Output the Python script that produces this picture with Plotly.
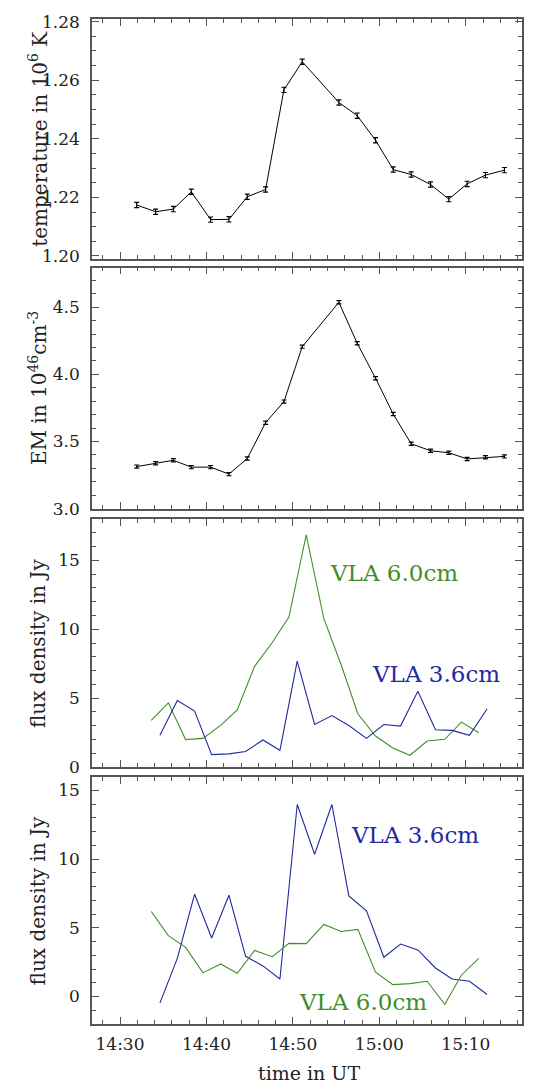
import plotly.graph_objects as go

# ---- data (time in minutes after 14:00 UT) ----
t_xray = [31.93, 34.12, 36.17, 38.25, 40.48, 42.60, 44.72, 46.84, 48.96, 51.08,
          55.32, 57.44, 59.56, 61.60, 63.68, 65.92, 68.03, 70.15, 72.27, 74.47]
temperature = [1.2174, 1.2151, 1.2160, 1.2219, 1.2124, 1.2125, 1.2202, 1.2227, 1.2567, 1.2663,
               1.2524, 1.2479, 1.2395, 1.2295, 1.2278, 1.2244, 1.2194, 1.2246, 1.2276, 1.2293]
temperature_err = [0.0009, 0.0009, 0.0009, 0.0009, 0.0009, 0.0009, 0.0009, 0.0009, 0.0009, 0.0009,
                   0.0009, 0.0009, 0.0009, 0.0009, 0.0009, 0.0009, 0.0009, 0.0009, 0.0009, 0.0009]
emission = [3.313, 3.338, 3.360, 3.309, 3.309, 3.257, 3.373, 3.640, 3.797, 4.206,
            4.536, 4.231, 3.971, 3.704, 3.483, 3.431, 3.416, 3.370, 3.382, 3.389]
emission_err = [0.012, 0.012, 0.012, 0.012, 0.012, 0.012, 0.012, 0.012, 0.012, 0.012,
                0.012, 0.012, 0.012, 0.012, 0.012, 0.012, 0.012, 0.012, 0.012, 0.012]

t_60 = [33.62, 35.59, 37.59, 39.60, 41.64, 43.56, 45.57, 47.61, 49.54, 51.54,
        53.58, 55.59, 57.51, 59.56, 61.56, 63.53, 65.53, 67.57, 69.50, 71.50]
t_36 = [34.62, 36.63, 38.63, 40.60, 42.60, 44.53, 46.53, 48.50, 50.50, 52.51,
        54.51, 56.47, 58.51, 60.52, 62.45, 64.45, 66.49, 68.42, 70.42, 72.47]

flux60_a = [3.37, 4.65, 1.98, 2.07, 3.01, 4.14, 7.30, 9.04, 10.89, 16.87,
            10.77, 7.40, 3.86, 2.24, 1.37, 0.84, 1.88, 2.00, 3.25, 2.48]
flux36_a = [2.29, 4.82, 4.05, 0.89, 0.94, 1.11, 1.95, 1.20, 7.69, 3.08,
            3.73, 3.00, 2.07, 3.08, 2.96, 5.49, 2.70, 2.65, 2.29, 4.22]
flux60_b = [6.19, 4.43, 3.58, 1.72, 2.37, 1.69, 3.36, 2.90, 3.87, 3.85,
            5.25, 4.74, 4.89, 1.77, 0.87, 0.94, 1.11, -0.56, 1.57, 2.78]
flux36_b = [-0.46, 2.78, 7.45, 4.26, 7.38, 2.93, 2.23, 1.28, 13.98, 10.36,
            13.98, 7.33, 6.24, 2.86, 3.82, 3.39, 2.08, 1.28, 1.11, 0.15]

x_tickvals = [30, 40, 50, 60, 70]
x_ticktext = ["14:30", "14:40", "14:50", "15:00", "15:10"]

y_titles = ["temperature in 10<sup>6</sup> K",
            "EM in 10<sup>46</sup>cm<sup>-3</sup>",
            "flux density in Jy",
            "flux density in Jy"]

GREEN = "#3f8f27"
BLUE = "#1e2a9e"
FRAME = "#555555"
FONT = "DejaVu Serif"
TXT = "#222222"

fig = go.Figure()

fig.add_trace(go.Scatter(x=t_xray, y=temperature, mode="lines",
                         line=dict(color="black", width=1),
                         error_y=dict(type="data", array=temperature_err, color="black",
                                      thickness=1.2, width=2.5),
                         xaxis="x", yaxis="y", showlegend=False))
fig.add_trace(go.Scatter(x=t_xray, y=emission, mode="lines",
                         line=dict(color="black", width=1),
                         error_y=dict(type="data", array=emission_err, color="black",
                                      thickness=1.2, width=2.5),
                         xaxis="x2", yaxis="y2", showlegend=False))
fig.add_trace(go.Scatter(x=t_60, y=flux60_a, mode="lines", line=dict(color=GREEN, width=1.1),
                         xaxis="x3", yaxis="y3", showlegend=False))
fig.add_trace(go.Scatter(x=t_36, y=flux36_a, mode="lines", line=dict(color=BLUE, width=1.1),
                         xaxis="x3", yaxis="y3", showlegend=False))
fig.add_trace(go.Scatter(x=t_36, y=flux36_b, mode="lines", line=dict(color=BLUE, width=1.1),
                         xaxis="x4", yaxis="y4", showlegend=False))
fig.add_trace(go.Scatter(x=t_60, y=flux60_b, mode="lines", line=dict(color=GREEN, width=1.1),
                         xaxis="x4", yaxis="y4", showlegend=False))

domains = [[0.7616, 1.0], [0.5128, 0.7527], [0.2559, 0.5023], [0.0, 0.2460]]
y_ranges = [[1.1991, 1.2809], [3.0, 4.795], [0.0, 18.0], [-2.0, 16.0]]
y_dticks = [0.02, 0.5, 5, 5]
y_minor = [0.005, 0.1, 1, 1]
y_tick0 = [1.2, 3.0, 0, 0]
y_fmt = [".2f", ".1f", "d", "d"]

common = dict(showline=True, linecolor=FRAME, linewidth=1.5, mirror="ticks",
              ticks="inside", ticklen=7, tickwidth=1, tickcolor=FRAME,
              showgrid=False, zeroline=False,
              tickfont=dict(family=FONT, size=17, color=TXT))

layout = dict(width=538, height=1085, paper_bgcolor="white", plot_bgcolor="white",
              margin=dict(l=92, r=16, t=12, b=61),
              font=dict(family=FONT, size=17, color=TXT),
              showlegend=False)

for i in range(4):
    xs = "xaxis" if i == 0 else f"xaxis{i+1}"
    ys = "yaxis" if i == 0 else f"yaxis{i+1}"
    anchor_y = "y" if i == 0 else f"y{i+1}"
    anchor_x = "x" if i == 0 else f"x{i+1}"
    layout[xs] = dict(common, domain=[0, 1], anchor=anchor_y, range=[26.76, 76.5],
                      tickmode="array", tickvals=x_tickvals,
                      ticktext=x_ticktext, showticklabels=(i == 3),
                      ticklabelstandoff=4,
                      minor=dict(ticks="inside", ticklen=4, tickcolor=FRAME,
                                 tickmode="linear", tick0=0, dtick=2),
                      matches=None if i == 0 else "x")
    layout[ys] = dict(common, domain=domains[i], anchor=anchor_x, range=y_ranges[i],
                      tickmode="linear", tick0=y_tick0[i], dtick=y_dticks[i],
                      tickformat=y_fmt[i], ticklabelstandoff=7,
                      minor=dict(ticks="inside", ticklen=4, tickcolor=FRAME,
                                 tickmode="linear", tick0=y_tick0[i], dtick=y_minor[i]))

fig.update_layout(**layout)

annotations = []
plot_w = 538 - 92 - 16
title_x = (38 - 92) / plot_w
for i in range(4):
    annotations.append(dict(xref="paper", yref="paper", x=title_x,
                            y=(domains[i][0] + domains[i][1]) / 2,
                            text=y_titles[i], textangle=-90, showarrow=False,
                            xanchor="center", yanchor="middle",
                            font=dict(family=FONT, size=20, color=TXT)))
annotations.append(dict(xref="paper", yref="paper", x=(309 - 92) / plot_w, y=-49 / 1012,
                        text="time in UT", showarrow=False, xanchor="center", yanchor="middle",
                        font=dict(family=FONT, size=19, color=TXT)))
annotations += [
    dict(xref="x3", yref="y3", x=61.68, y=14.1, text="VLA 6.0cm", showarrow=False,
         font=dict(family=FONT, size=23, color=GREEN)),
    dict(xref="x3", yref="y3", x=66.57, y=6.75, text="VLA 3.6cm", showarrow=False,
         font=dict(family=FONT, size=23, color=BLUE)),
    dict(xref="x4", yref="y4", x=64.07, y=11.73, text="VLA 3.6cm", showarrow=False,
         font=dict(family=FONT, size=23, color=BLUE)),
    dict(xref="x4", yref="y4", x=58.09, y=-0.41, text="VLA 6.0cm", showarrow=False,
         font=dict(family=FONT, size=23, color=GREEN)),
]
fig.update_layout(annotations=annotations)

fig.write_html("out.html", config={"displayModeBar": False},
               post_script="document.body.style.margin='0';document.body.style.padding='0';")
